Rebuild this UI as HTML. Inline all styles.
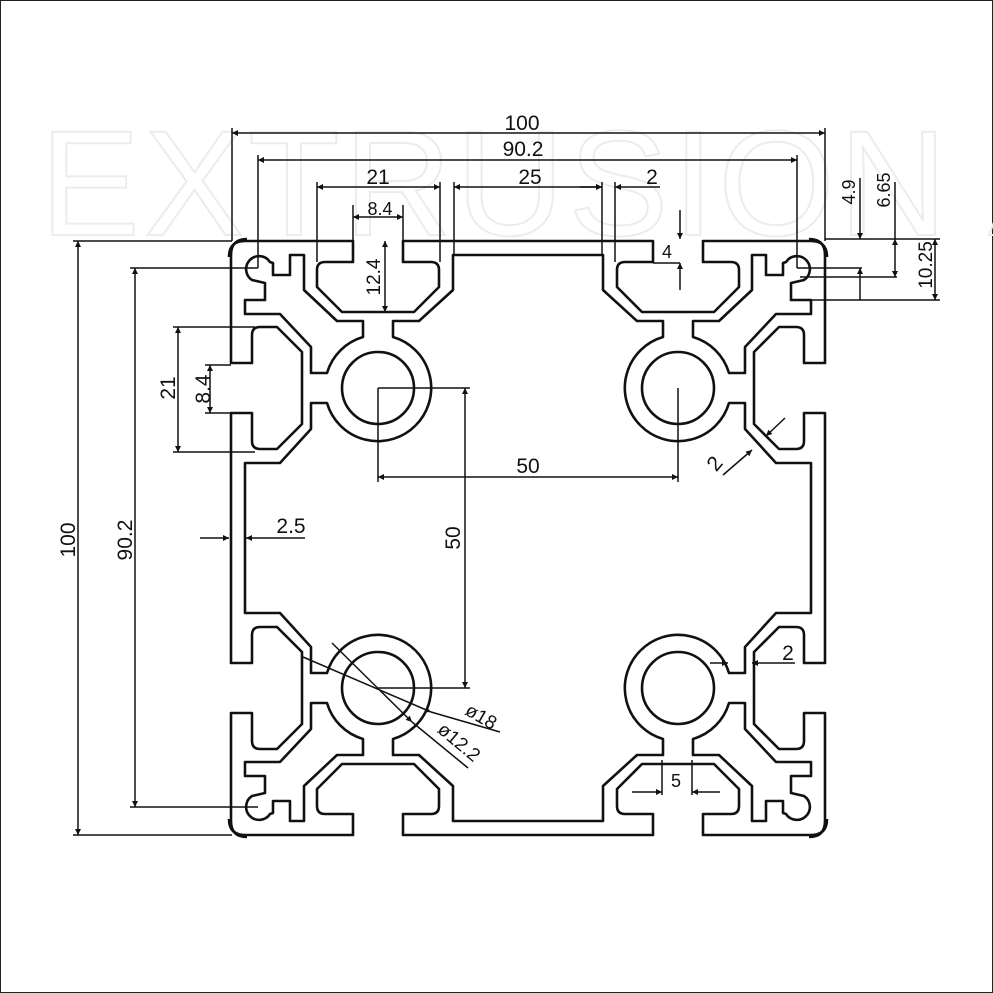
<!DOCTYPE html>
<html><head><meta charset="utf-8"><style>
html,body{margin:0;padding:0;background:#fff}
svg{display:block}
text{font-family:"Liberation Sans",sans-serif;font-size:21px;fill:#111}
</style></head><body>
<svg width="993" height="993" viewBox="0 0 993 993" xmlns="http://www.w3.org/2000/svg">
<defs>
<marker id="a" viewBox="0 0 10 10" refX="10" refY="5" markerWidth="11" markerHeight="6" orient="auto-start-reverse" markerUnits="userSpaceOnUse"><path d="M0,0 L10,5 L0,10 z" fill="#111"/></marker>
<g id="half">
 <path d="M528,241 H403 V262 H431 Q439,262 439,270 V287 L414,312 H342 L317,287 V270 Q317,262 325,262 H353 V241 H245 Q229,241 229,257"/>
 <path d="M528,255 H453 V290 L419,321 H393 V337 A53,53 0 0 1 415.5,425.5"/>
</g>
<g id="quad">
 <use href="#half"/>
 <use href="#half" transform="matrix(0,1,1,0,-10,10)"/>
 <path d="M270,262 L273,263 V275 H290 V255 H304 V290 L337,321 H363 V337 A53,53 0 0 0 327,373 H311 V347 L280,314 H245 V300 H265 V283 L252,280 A13,13 0 1 1 270,262 Z"/>
 <circle cx="378" cy="388" r="36"/>
</g>
</defs>
<rect x="0.5" y="0.5" width="992" height="992" fill="#fff" stroke="#222"/>
<text x="40" y="235" style="font-size:150px;fill:none;stroke:#ececec;stroke-width:2;letter-spacing:4px">EXTRUSION AND</text>
<g fill="none" stroke="#111" stroke-width="2.6" stroke-linejoin="round">
 <use href="#quad"/>
 <use href="#quad" transform="translate(1056,0) scale(-1,1)"/>
 <use href="#quad" transform="translate(0,1076) scale(1,-1)"/>
 <use href="#quad" transform="translate(1056,1076) scale(-1,-1)"/>
</g>
<g fill="none" stroke="#111" stroke-width="1.5">
 <!-- top dims -->
 <path d="M232,128 V241 M825,128 V241 M258,155 V268 M797,155 V268"/>
 <line x1="232" y1="133" x2="825" y2="133" marker-start="url(#a)" marker-end="url(#a)"/>
 <line x1="258" y1="160" x2="797" y2="160" marker-start="url(#a)" marker-end="url(#a)"/>
 <path d="M317,182 V262 M440,182 V262 M454,182 V256 M602,182 V256 M615,182 V262"/>
 <line x1="317" y1="187" x2="440" y2="187" marker-start="url(#a)" marker-end="url(#a)"/>
 <line x1="454" y1="187" x2="602" y2="187" marker-start="url(#a)" marker-end="url(#a)"/>
 <line x1="580" y1="187" x2="602" y2="187" marker-end="url(#a)"/>
 <line x1="660" y1="187" x2="615" y2="187" marker-end="url(#a)"/>
 <path d="M353,205 V241 M403,205 V241"/>
 <line x1="353" y1="217" x2="403" y2="217" marker-start="url(#a)" marker-end="url(#a)"/>
 <line x1="385" y1="241" x2="385" y2="312" marker-start="url(#a)" marker-end="url(#a)"/>
 <line x1="680" y1="210" x2="680" y2="239" marker-end="url(#a)"/>
 <line x1="680" y1="290" x2="680" y2="263" marker-end="url(#a)"/>
 <path d="M653,263 H680"/>
 <!-- right dims -->
 <path d="M825,239 H940 M797,268 H862 M800,277 H897 M790,300 H940"/>
 <line x1="860" y1="178" x2="860" y2="239" marker-end="url(#a)"/>
 <line x1="860" y1="300" x2="860" y2="268" marker-end="url(#a)"/>
 <line x1="895" y1="239" x2="895" y2="277" marker-start="url(#a)" marker-end="url(#a)"/>
 <path d="M895,182 V239"/>
 <line x1="935" y1="239" x2="935" y2="300" marker-start="url(#a)" marker-end="url(#a)"/>
 <!-- left dims -->
 <path d="M73,241 H232 M73,835 H232 M130,268 H258 M130,807 H258"/>
 <line x1="78" y1="241" x2="78" y2="835" marker-start="url(#a)" marker-end="url(#a)"/>
 <line x1="135" y1="268" x2="135" y2="807" marker-start="url(#a)" marker-end="url(#a)"/>
 <path d="M173,327 H255 M173,452 H255 M205,365 H231 M205,413 H231"/>
 <line x1="178" y1="327" x2="178" y2="452" marker-start="url(#a)" marker-end="url(#a)"/>
 <line x1="210" y1="365" x2="210" y2="413" marker-start="url(#a)" marker-end="url(#a)"/>
 <line x1="200" y1="538" x2="229" y2="538" marker-end="url(#a)"/>
 <line x1="305" y1="538" x2="246" y2="538" marker-end="url(#a)"/>
 <!-- 50 dims -->
 <path d="M378,388 V482 M678,388 V482 M378,388 H470 M378,688 H470"/>
 <line x1="378" y1="477" x2="678" y2="477" marker-start="url(#a)" marker-end="url(#a)"/>
 <line x1="465" y1="388" x2="465" y2="688" marker-start="url(#a)" marker-end="url(#a)"/>
 <!-- diag 2 -->
 <line x1="723" y1="475" x2="752" y2="450" marker-end="url(#a)"/>
 <line x1="785" y1="418" x2="766" y2="436" marker-end="url(#a)"/>
 <!-- lower right 2 -->
 <line x1="710" y1="663" x2="728" y2="663" marker-end="url(#a)"/>
 <line x1="795" y1="663" x2="752" y2="663" marker-end="url(#a)"/>
 <!-- diameters -->
 <line x1="303" y1="657" x2="431" y2="712" marker-end="url(#a)"/>
 <path d="M431,712 L500,732"/>
 <line x1="332" y1="643" x2="412" y2="722" marker-end="url(#a)"/>
 <path d="M412,722 L468,768"/>
 <!-- 5 -->
 <path d="M662,760 V795 M692,760 V795"/>
 <line x1="632" y1="792" x2="662" y2="792" marker-end="url(#a)"/>
 <line x1="720" y1="792" x2="692" y2="792" marker-end="url(#a)"/>
</g>
<g text-anchor="middle">
 <text x="522" y="130">100</text>
 <text x="523" y="156">90.2</text>
 <text x="378" y="184">21</text>
 <text x="530" y="184">25</text>
 <text x="652" y="184">2</text>
 <text x="380" y="215" style="font-size:18px">8.4</text>
 <text transform="translate(380,277) rotate(-90)" style="font-size:19px">12.4</text>
 <text x="667" y="258" style="font-size:18px">4</text>
 <text transform="translate(855,192) rotate(-90)" style="font-size:18px">4.9</text>
 <text transform="translate(890,190) rotate(-90)" style="font-size:18px">6.65</text>
 <text transform="translate(932,265) rotate(-90)" style="font-size:19px">10.25</text>
 <text transform="translate(75,540) rotate(-90)">100</text>
 <text transform="translate(132,540) rotate(-90)">90.2</text>
 <text transform="translate(175,388) rotate(-90)">21</text>
 <text transform="translate(210,389) rotate(-90)">8.4</text>
 <text x="291" y="533">2.5</text>
 <text x="528" y="473">50</text>
 <text transform="translate(460,538) rotate(-90)">50</text>
 <text transform="translate(720,468) rotate(-50)">2</text>
 <text x="788" y="660">2</text>
 <text transform="translate(478,722) rotate(30)" style="font-size:19px">ø18</text>
 <text transform="translate(455,747) rotate(40)" style="font-size:19px">ø12.2</text>
 <text x="676" y="787" style="font-size:18px">5</text>
</g>
</svg>
</body></html>
